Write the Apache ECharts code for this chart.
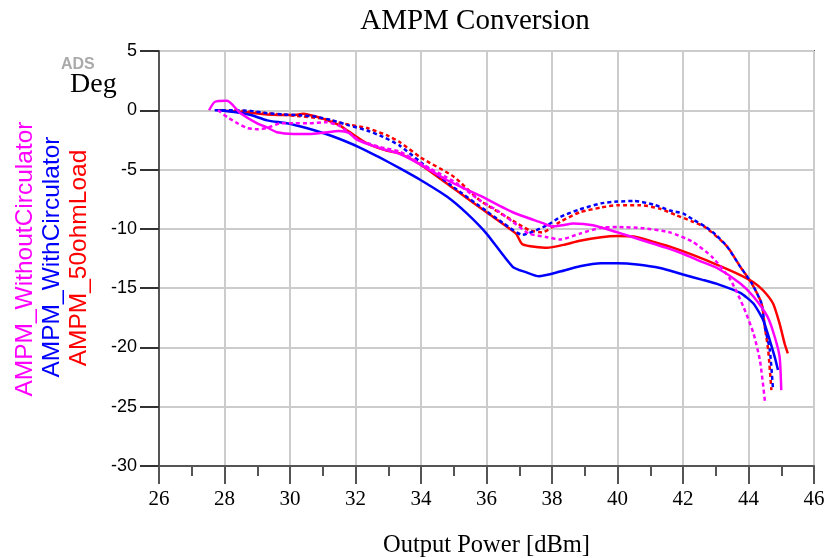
<!DOCTYPE html>
<html>
<head>
<meta charset="utf-8">
<script src="https://cdn.jsdelivr.net/npm/echarts@6/dist/echarts.min.js"></script>
<style>html,body{margin:0;padding:0;background:#fff}#c{width:827px;height:558px}</style>
</head>
<body>
<div id="c"></div>
<script>
var xTicks = [26, 28, 30, 32, 34, 36, 38, 40, 42, 44, 46];
var yTicks = [-30, -25, -20, -15, -10, -5, 0, 5];
var seriesNames = ['AMPM_WithoutCirculator', 'AMPM_WithCirculator', 'AMPM_50ohmLoad'];

var withoutSolid = [[27.53,0],[27.7,0.7],[28.08,0.8],[28.47,-0.2],[29.0,-1.1],[29.3,-1.45],[29.6,-1.85],[30.1,-2.0],[30.6,-2.0],[31.0,-1.9],[31.5,-1.75],[31.8,-1.9],[32.05,-2.5],[32.75,-3.2],[33.36,-3.7],[34,-4.6],[34.8,-5.9],[35.8,-7.2],[36.8,-8.6],[37.7,-9.5],[38.0,-9.8],[38.3,-9.7],[38.65,-9.55],[39.25,-9.7],[40.0,-10.3],[40.8,-11.0],[41.5,-11.6],[42.0,-12.1],[42.5,-12.7],[43.04,-13.3],[43.75,-14.6],[44.15,-15.7],[44.58,-17.4],[44.8,-19.1],[44.95,-20.8],[45.0,-23.6]];
var withoutDashed = [[27.8,0],[28.1,-0.6],[28.4,-1.1],[28.7,-1.5],[29.0,-1.6],[29.3,-1.5],[29.7,-1.1],[30.1,-1.1],[30.6,-1.1],[31.1,-1.0],[31.5,-1.3],[31.8,-1.9],[32.1,-2.5],[32.75,-3.1],[33.36,-3.5],[34,-4.5],[35,-6.0],[35.8,-7.6],[36.3,-8.4],[36.8,-9.4],[37.3,-10.4],[37.85,-10.7],[38.25,-10.9],[38.85,-10.4],[39.5,-9.9],[40.0,-9.85],[40.8,-9.95],[41.6,-10.3],[42.3,-11.1],[42.9,-12.4],[43.45,-14.3],[43.85,-16.6],[44.15,-18.8],[44.35,-21.1],[44.5,-24.5]];
var withSolid = [[27.77,0],[28.3,-0.15],[28.8,-0.4],[29.3,-0.85],[29.9,-1.1],[30.5,-1.5],[31.1,-2.0],[31.5,-2.4],[32.1,-3.1],[32.75,-4.0],[33.36,-4.9],[34,-5.9],[34.8,-7.3],[35.4,-8.7],[36.0,-10.4],[36.8,-13.2],[37.2,-13.65],[37.6,-14.0],[38.25,-13.6],[38.85,-13.15],[39.5,-12.9],[40.0,-12.9],[40.6,-13.0],[41.3,-13.3],[42.0,-13.85],[42.6,-14.3],[43.1,-14.7],[43.75,-15.4],[44.15,-16.3],[44.45,-17.7],[44.65,-19.4],[44.8,-20.8],[44.9,-21.9]];
var withDashed = [[27.7,0],[28.3,0],[28.8,-0.05],[29.3,-0.25],[29.8,-0.35],[30.3,-0.42],[30.8,-0.55],[31.3,-0.85],[31.8,-1.27],[32.35,-1.7],[32.85,-2.25],[33.36,-3.0],[34,-4.4],[35,-6.5],[36,-8.5],[36.5,-9.5],[37.1,-10.5],[37.85,-9.7],[38.25,-9.0],[38.85,-8.35],[39.5,-7.85],[40.0,-7.7],[40.5,-7.65],[41.1,-7.95],[41.6,-8.45],[42.0,-8.7],[42.3,-9.2],[42.7,-9.85],[43.0,-10.5],[43.35,-11.5],[43.75,-13.2],[44.1,-14.6],[44.4,-16.3],[44.5,-18.3],[44.65,-20.2],[44.75,-23.6]];
var loadSolid = [[27.8,0],[28.57,-0.15],[29.3,-0.35],[30.1,-0.4],[30.4,-0.3],[30.6,-0.4],[31.0,-0.7],[31.5,-1.25],[31.8,-1.8],[32.35,-2.8],[32.95,-3.4],[33.36,-3.65],[34,-4.6],[35,-6.6],[36,-8.6],[36.9,-10.4],[37.1,-11.3],[37.85,-11.6],[38.35,-11.35],[38.85,-11.0],[39.5,-10.7],[40.0,-10.6],[40.5,-10.65],[41.1,-11.1],[41.6,-11.5],[42.3,-12.2],[43.1,-13.1],[43.75,-13.9],[44.15,-14.5],[44.45,-15.2],[44.75,-16.3],[44.95,-18.0],[45.1,-19.65],[45.2,-20.5]];
var loadDashed = [[28.3,0],[28.56,-0.05],[29.3,-0.25],[30.3,-0.5],[31.0,-0.7],[31.6,-1.1],[32.35,-1.5],[32.95,-2.1],[33.36,-2.7],[34,-4.0],[35,-5.6],[35.8,-7.6],[36.8,-9.3],[37.3,-10.1],[37.7,-10.3],[38.25,-9.4],[38.85,-8.6],[39.5,-8.2],[40.0,-8.0],[40.7,-8.0],[41.3,-8.3],[41.8,-8.85],[42.3,-9.4],[42.7,-9.9],[43.35,-11.5],[43.75,-13.2],[44.1,-14.6],[44.4,-16.3],[44.5,-18.3],[44.6,-20.2],[44.7,-23.6]];

var MAG = '#ff00ff', BLU = '#0000ff', RED = '#ff0000';
function mk(name, data, color, dashed) {
  return {
    name: name, type: 'line', data: data, showSymbol: false, smooth: 0.2,
    lineStyle: { color: color, width: 2.5, type: dashed ? [4, 3] : 'solid' },
    itemStyle: { color: color }, animation: false, silent: true
  };
}

var chart = echarts.init(document.getElementById('c'), null, { renderer: 'canvas' });
chart.setOption({
  animation: false,
  backgroundColor: '#fff',
  title: {
    text: 'AMPM Conversion', left: 470, top: 2, textAlign: 'center',
    textStyle: { fontFamily: 'Liberation Serif', fontSize: 29, fontWeight: 'normal', color: '#000' }
  },
  grid: { left: 159, top: 51, right: 13, bottom: 92, containLabel: false, outerBoundsMode: 'none', show: true, borderColor: '#666', borderWidth: 2 },
  xAxis: {
    type: 'value', min: xTicks[0], max: xTicks[xTicks.length - 1], interval: 2,
    name: 'Output Power [dBm]', nameLocation: 'middle', nameGap: 67,
    nameTextStyle: { fontFamily: 'Liberation Serif', fontSize: 24.5, color: '#000' },
    axisLine: { show: true, onZero: false, lineStyle: { color: '#555', width: 2 } },
    axisTick: { show: true, inside: false, length: 18, lineStyle: { color: '#555', width: 2 } },
    minorTick: { show: true, splitNumber: 2, length: 10, lineStyle: { color: '#555', width: 2 } },
    axisLabel: { margin: 23, fontFamily: 'Liberation Serif', fontSize: 21, color: '#000' },
    splitLine: { show: true, lineStyle: { color: '#cccccc', width: 2 } }
  },
  yAxis: {
    type: 'value', min: yTicks[0], max: yTicks[yTicks.length - 1], interval: 5,
    axisLine: { show: true, onZero: false, lineStyle: { color: '#555', width: 2 } },
    axisTick: { show: true, inside: false, length: 19, lineStyle: { color: '#333', width: 2 } },
    axisLabel: { margin: 22, fontFamily: 'Liberation Sans', fontSize: 18, color: '#000' },
    splitLine: { show: true, lineStyle: { color: '#cccccc', width: 2 } }
  },
  graphic: [
    { type: 'text', left: 61, top: 57, style: { text: 'ADS', font: 'bold 16px "Liberation Sans"', fill: '#aaaaaa' } },
    { type: 'text', left: 70, top: 71, style: { text: 'Deg', font: '28px "Liberation Serif"', fill: '#000' } },
    { type: 'text', x: 25, y: 259, rotation: Math.PI / 2, style: { text: seriesNames[0], font: '24.5px "Liberation Sans"', fill: MAG, textAlign: 'center', textVerticalAlign: 'middle' } },
    { type: 'text', x: 52, y: 257, rotation: Math.PI / 2, style: { text: seriesNames[1], font: '24.5px "Liberation Sans"', fill: BLU, textAlign: 'center', textVerticalAlign: 'middle' } },
    { type: 'text', x: 79, y: 258, rotation: Math.PI / 2, style: { text: seriesNames[2], font: '24.5px "Liberation Sans"', fill: RED, textAlign: 'center', textVerticalAlign: 'middle' } }
  ],
  series: [
    mk(seriesNames[2], loadSolid, RED, false),
    mk(seriesNames[2] + ' (dashed)', loadDashed, RED, true),
    mk(seriesNames[1], withSolid, BLU, false),
    mk(seriesNames[1] + ' (dashed)', withDashed, BLU, true),
    mk(seriesNames[0], withoutSolid, MAG, false),
    mk(seriesNames[0] + ' (dashed)', withoutDashed, MAG, true)
  ]
});
</script>
</body>
</html>
